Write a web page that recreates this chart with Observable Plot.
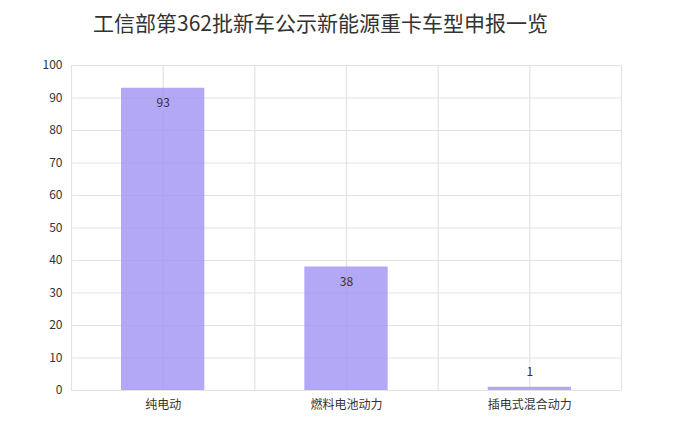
<!DOCTYPE html>
<html><head><meta charset="utf-8">
<script src="https://cdn.jsdelivr.net/npm/d3@7"></script>
<script src="https://cdn.jsdelivr.net/npm/@observablehq/plot@0.6"></script>
<style>
body{margin:0;background:#fff;font-family:"Noto Sans CJK SC","Noto Sans",sans-serif;}
#title{height:45px;line-height:44px;font-size:21px;color:#333;padding-left:93px;white-space:nowrap;}
</style></head>
<body>
<div id="title">工信部第362批新车公示新能源重卡车型申报一览</div>
<div id="chart"></div>
<script>
const categories = ["纯电动", "燃料电池动力", "插电式混合动力"];
const values = [93, 38, 1];
const yTicks = [0, 10, 20, 30, 40, 50, 60, 70, 80, 90, 100];

const data = categories.map((c, i) => ({cat: c, i, value: values[i]}));
const vGrid = d3.range(0, categories.length + 0.01, 0.5);

const chart = Plot.plot({
  width: 673,
  height: 386,
  marginLeft: 71,
  marginRight: 52,
  marginTop: 20,
  marginBottom: 41,
  style: {fontFamily: '"Noto Sans CJK SC","Noto Sans",sans-serif', fontSize: "11px", color: "#333", background: "#fff"},
  x: {domain: [0, categories.length], label: null},
  y: {domain: [0, 100], label: null},
  marks: [
    Plot.ruleY(yTicks, {stroke: "#e3e3e3", strokeWidth: 1.2}),
    Plot.ruleX(vGrid, {stroke: "#e3e3e3", strokeWidth: 1.2}),
    Plot.rectY(data, {x1: "i", x2: d => d.i + 1, y: "value", fill: "#a092f4", fillOpacity: 0.8, insetLeft: 50, insetRight: 50}),
    Plot.text(data.filter(d => d.value > 5), {x: d => d.i + 0.5, y: "value", text: d => String(d.value), dy: 15, fill: "#333", fontSize: 12}),
    Plot.text(data.filter(d => d.value <= 5), {x: d => d.i + 0.5, y: "value", text: d => String(d.value), dy: -15, fill: "#333", fontSize: 12}),
    Plot.axisX({ticks: data.map(d => d.i + 0.5), tickFormat: v => categories[Math.floor(v)], tickSize: 0, tickPadding: 10, fontSize: 12, fill: "#333", label: null}),
    Plot.axisY({ticks: yTicks, tickSize: 0, tickPadding: 9, fontSize: 12, fill: "#333", label: null})
  ]
});
document.getElementById("chart").appendChild(chart);
</script>
</body></html>
